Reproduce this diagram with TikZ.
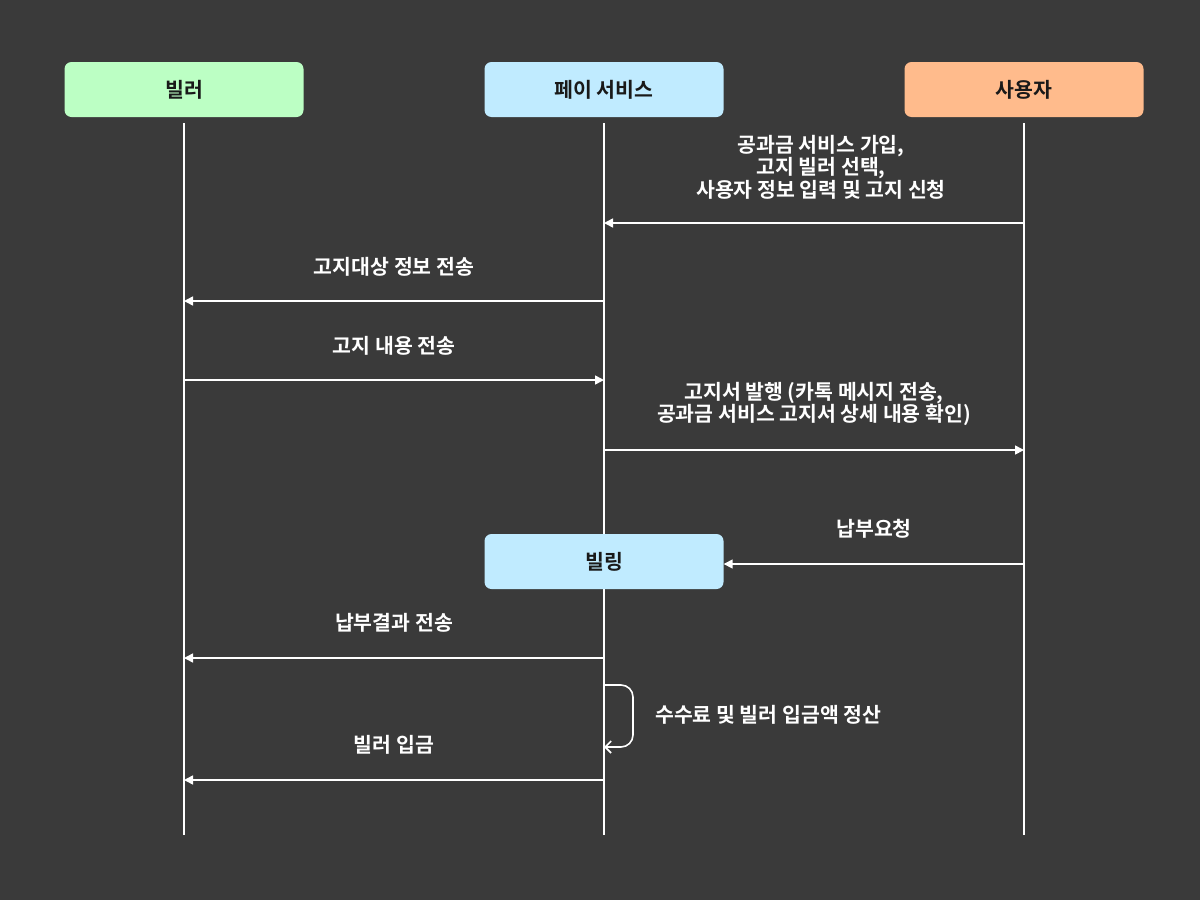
\documentclass[tikz,border=0pt]{standalone}
\usepackage{fontspec}
\setmainfont{Noto Sans CJK KR}[BoldFont={* Bold}]
\usetikzlibrary{arrows.meta}
\definecolor{bg}{HTML}{3A3A3A}
\definecolor{cgreen}{HTML}{BCFFC4}
\definecolor{cblue}{HTML}{C0EBFF}
\definecolor{corange}{HTML}{FFBB8C}
\tikzset{
  x=1pt,y=-1pt,
  actor/.style={rounded corners=7pt, minimum width=239pt, minimum height=55pt, inner sep=0pt, text=black!90, font=\fontsize{20.5}{22}\selectfont\bfseries},
  life/.style={draw=white, line width=1.6pt},
  msg/.style={draw=white, line width=1.6pt, -{Triangle[length=9pt,width=9pt]}},
  lbl/.style={text=white, align=center, inner sep=0pt, font=\fontsize{20.5}{19}\selectfont\bfseries},
}
\begin{document}
\begin{tikzpicture}
\fill[bg] (0,0) rectangle (1200,900);
\useasboundingbox (0,0) rectangle (1200,900);
% lifelines
\coordinate (bt) at (184,123); \coordinate (bb) at (184,835);
\coordinate (pt) at (604,123); \coordinate (pb) at (604,835);
\coordinate (ut) at (1024,123); \coordinate (ub) at (1024,835);
\draw[life] (bt) -- (bb);
\draw[life] (pt) -- (pb);
\draw[life] (ut) -- (ub);
% actors
\node[actor, fill=cgreen] (biller) at (184,89.5) {빌러};
\node[actor, fill=cblue] (pay) at (604,89.5) {페이 서비스};
\node[actor, fill=corange] (user) at (1024,89.5) {사용자};
\node[actor, fill=cblue] (billing) at (604,561.5) {빌링};
% message anchor points
\coordinate (u1) at (1024,223); \coordinate (p1) at (604,223);
\coordinate (p2) at (604,301); \coordinate (b2) at (184,301);
\coordinate (b3) at (184,380); \coordinate (p3) at (604,380);
\coordinate (p4) at (604,450); \coordinate (u4) at (1024,450);
\coordinate (u5) at (1024,564); \coordinate (k5) at (billing.east |- u5);
\coordinate (p6) at (604,658); \coordinate (b6) at (184,658);
\coordinate (s1) at (604,685); \coordinate (s2) at (604,747);
\coordinate (p7) at (604,780); \coordinate (b7) at (184,780);
\draw[msg] (u1) -- (p1);
\draw[msg] (p2) -- (b2);
\draw[msg] (b3) -- (p3);
\draw[msg] (p4) -- (u4);
\draw[msg] (u5) -- (k5);
\draw[msg] (p6) -- (b6);
\draw[draw=white, line width=1.6pt, rounded corners=12pt, -{Straight Barb[length=6pt,width=12pt]}] (s1) -- (633,685) -- (633,747) -- (s2);
\draw[msg] (p7) -- (b7);
% labels
\node[lbl] (l1) at (821,167) {공과금 서비스 가입,\\고지 빌러 선택,\\사용자 정보 입력 및 고지 신청};
\node[lbl] (l2) at (394,267) {고지대상 정보 전송};
\node[lbl] (l3) at (394,346) {고지 내용 전송};
\node[lbl] (l4) at (814,404) {고지서 발행 (카톡 메시지 전송,\\공과금 서비스 고지서 상세 내용 확인)};
\node[lbl] (l5) at (874,529) {납부요청};
\node[lbl] (l6) at (394,623) {납부결과 전송};
\node[lbl, anchor=west] (l7) at (655,715) {수수료 및 빌러 입금액 정산};
\node[lbl] (l8) at (394,745) {빌러 입금};
\end{tikzpicture}
\end{document}
